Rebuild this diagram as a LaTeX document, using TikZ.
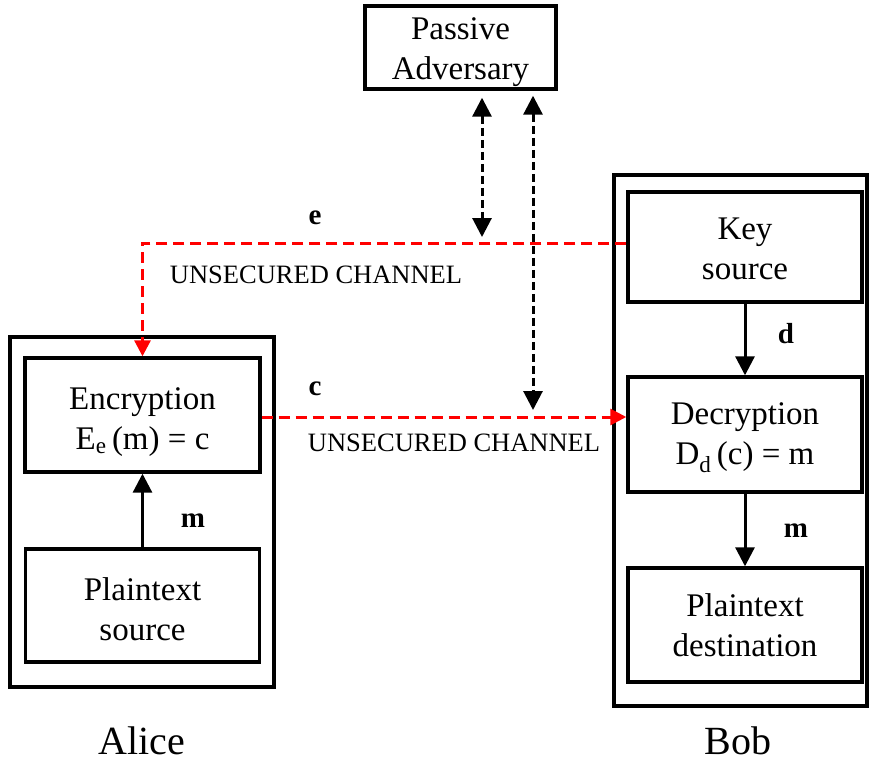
\documentclass[tikz,border=0pt]{standalone}
\usepackage{fontspec}
\setmainfont{Liberation Serif}
\usetikzlibrary{arrows.meta,calc}
\begin{document}
\begin{tikzpicture}[x=1pt,y=-1pt,
  box/.style={draw,line width=3.4pt,rectangle,inner sep=0pt},
  txt/.style={inner sep=0pt,align=center,font=\fontsize{33}{40}\selectfont},
  outer/.style={draw,line width=3.4pt,rectangle,inner sep=0pt},
  flow/.style={line width=3pt,-{Triangle[length=19pt,width=19pt]}},
  redchan/.style={red,line width=3pt,dash pattern=on 11pt off 6pt,-{Triangle[length=16pt,width=16pt]}},
  spy/.style={line width=3pt,dash pattern=on 8pt off 4pt,{Triangle[length=19pt,width=19pt]}-{Triangle[length=19pt,width=19pt]}},
  lbl/.style={font=\fontsize{29}{32}\selectfont\bfseries},
  chan/.style={font=\fontsize{26.5}{30}\selectfont},
  who/.style={inner sep=0pt,font=\fontsize{40}{44}\selectfont}]
\useasboundingbox (0,0) rectangle (870,763);
% outer boxes
\node[outer,minimum width=264pt,minimum height=350pt] (alice) at (142,512) {};
\node[outer,minimum width=253pt,minimum height=531pt] (bob) at (740.5,440.5) {};
% boxes
\node[box,minimum width=191pt,minimum height=83pt] (adv) at (460.5,47.5) {};
\node[box,minimum width=235pt,minimum height=114pt] (enc) at (142.5,415) {};
\node[box,minimum width=234pt,minimum height=113pt] (pts) at (142.5,605.5) {};
\node[box,minimum width=234pt,minimum height=110pt] (key) at (745,247) {};
\node[box,minimum width=234pt,minimum height=115pt] (dec) at (745,434.5) {};
\node[box,minimum width=234pt,minimum height=114pt] (ptd) at (745,625) {};
% box texts
\node[txt] (advt) at ([yshift=-5pt]adv.center) {Passive\\Adversary};
\node[txt] (enct) at ([yshift=-7pt]enc.center) {Encryption\\E\textsubscript{e}\,(m) = c};
\node[txt] (ptst) at ([yshift=-4pt]pts.center) {Plaintext\\source};
\node[txt] (keyt) at ([yshift=-2pt]key.center) {Key\\source};
\node[txt] (dect) at ([yshift=-3pt]dec.center) {Decryption\\D\textsubscript{d}\,(c) = m};
\node[txt] (ptdt) at ([yshift=0pt]ptd.center) {Plaintext\\destination};
% labels
\node[who] (alab) at (142,741) {Alice};
\node[who] (blab) at (738,741) {Bob};
\node[lbl] (le) at (315,218) {e};
\node[lbl] (lc) at (315,389) {c};
\node[lbl] (lm1) at (193,521) {m};
\node[lbl] (ld) at (786,334) {d};
\node[lbl] (lm2) at (796,531) {m};
\node[chan] (ch1) at (316,275) {UNSECURED CHANNEL};
\node[chan] (ch2) at (454,443) {UNSECURED CHANNEL};
% internal arrows
\draw[flow] (pts.north) -- (pts.north |- enc.south);
\draw[flow] (key.south) -- (dec.north);
\draw[flow] (dec.south) -- (ptd.north);
% channels
\draw[redchan] ([yshift=4pt]key.west) -| (enc.north);
\draw[redchan] ([yshift=-2pt]enc.east) -- ([yshift=-2pt]dec.west |- enc.east);
% adversary taps
\coordinate (t1) at (482,237);
\coordinate (t2) at (533,410);
\draw[spy] ([xshift=21.5pt,yshift=-7pt]adv.south) -- (t1);
\draw[spy] ([xshift=72.5pt,yshift=-5pt]adv.south) -- (t2);
\end{tikzpicture}
\end{document}
